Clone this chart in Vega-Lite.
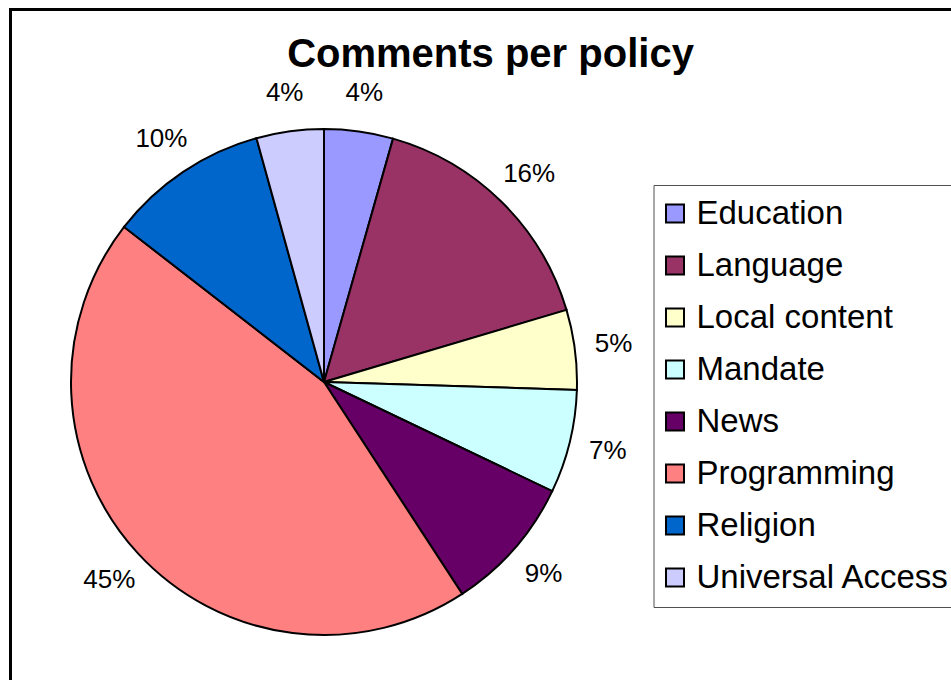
{
  "$schema": "https://vega.github.io/schema/vega-lite/v6.json",
  "width": 960,
  "height": 690,
  "autosize": {"type": "none"},
  "padding": {"left": 10.5, "top": 9.5, "right": 0, "bottom": 0},
  "background": "white",
  "config": {
    "font": "Liberation Sans",
    "view": {"stroke": null}
  },
  "title": {
    "text": "Comments per policy",
    "font": "Liberation Sans",
    "fontSize": 40,
    "fontWeight": "bold",
    "color": "black",
    "anchor": "middle",
    "frame": "group",
    "offset": -67
  },
  "datasets": {
    "comments": [
      {"policy": "Education", "share": 0.044},
      {"policy": "Language", "share": 0.160},
      {"policy": "Local content", "share": 0.051},
      {"policy": "Mandate", "share": 0.066},
      {"policy": "News", "share": 0.087},
      {"policy": "Programming", "share": 0.447},
      {"policy": "Religion", "share": 0.102},
      {"policy": "Universal Access", "share": 0.043}
    ],
    "frame": [{"part": "border"}]
  },
  "layer": [
    {
      "data": {"name": "frame"},
      "mark": {"type": "rect", "fill": "transparent", "stroke": "black", "strokeWidth": 3},
      "encoding": {}
    },
    {
      "data": {"name": "comments"},
      "mark": {"type": "arc", "outerRadius": 253, "stroke": "black", "strokeWidth": 2, "x": 313.5, "y": 372.5},
      "encoding": {
        "theta": {"field": "share", "type": "quantitative", "stack": true},
        "order": {"field": "policy", "type": "nominal", "sort": "ascending"},
        "color": {
          "field": "policy",
          "type": "nominal",
          "scale": {
            "domain": ["Education", "Language", "Local content", "Mandate", "News", "Programming", "Religion", "Universal Access"],
            "range": ["#9999FF", "#993366", "#FFFFCC", "#CCFFFF", "#660066", "#FF8080", "#0066CC", "#CCCCFF"]
          },
          "legend": {
            "title": null,
            "orient": "none",
            "legendX": 643,
            "legendY": 175.5,
            "padding": 12,
            "strokeColor": "#505050",
            "fillColor": "white",
            "symbolType": "square",
            "symbolSize": 324,
            "symbolStrokeColor": "black",
            "symbolStrokeWidth": 2,
            "symbolOpacity": 1,
            "symbolOffset": -7,
            "labelFont": "Liberation Sans",
            "labelFontSize": 33,
            "labelColor": "black",
            "labelOffset": 5,
            "labelLimit": 400,
            "rowPadding": 18
          }
        }
      }
    },
    {
      "data": {"name": "comments"},
      "mark": {"type": "text", "radius": 292, "x": 313.5, "y": 372.5, "fontSize": 26, "font": "Liberation Sans", "color": "black", "align": "center", "baseline": "middle"},
      "encoding": {
        "theta": {"field": "share", "type": "quantitative", "stack": true},
        "order": {"field": "policy", "type": "nominal", "sort": "ascending"},
        "text": {"field": "share", "type": "quantitative", "format": ".0%"}
      }
    }
  ]
}
